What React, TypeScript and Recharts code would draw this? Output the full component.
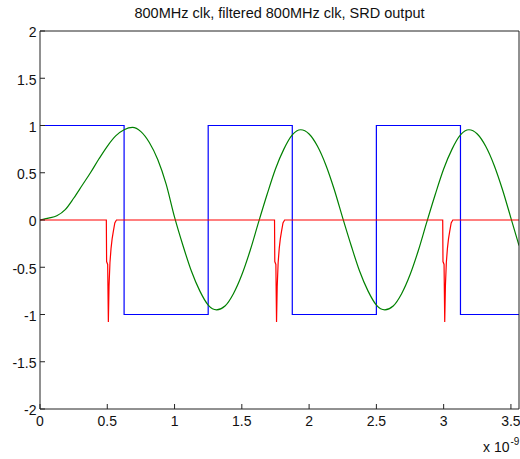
import { LineChart, Line, XAxis, YAxis } from "recharts"

// time axis is in units of 1e-9 s
const xTicks = [0, 0.5, 1, 1.5, 2, 2.5, 3, 3.5]
const yTicks = [-2, -1.5, -1, -0.5, 0, 0.5, 1, 1.5, 2]

// 800MHz clock (square wave)
const clockTimes = [0, 0.625, 0.625, 1.25, 1.25, 1.875, 1.875, 2.5, 2.5, 3.125, 3.125, 3.56]
const clockLevels = [1, 1, -1, -1, 1, 1, -1, -1, 1, 1, -1, -1]

// filtered clock
const filteredTimes = [
  0, 0.0625, 0.125, 0.1875, 0.25, 0.3125, 0.375, 0.4375, 0.5, 0.5625, 0.625, 0.6875, 0.75, 0.8125, 0.875, 0.9375,
  1, 1.0625, 1.125, 1.1875, 1.25, 1.3125, 1.375, 1.4375, 1.5, 1.5625, 1.625, 1.6875, 1.75, 1.8125, 1.875, 1.9375,
  2, 2.0625, 2.125, 2.1875, 2.25, 2.3125, 2.375, 2.4375, 2.5, 2.5625, 2.625, 2.6875, 2.75, 2.8125, 2.875, 2.9375,
  3, 3.0625, 3.125, 3.1875, 3.25, 3.3125, 3.375, 3.4375, 3.5, 3.56,
]
const filteredValues = [
  0, 0.02, 0.045, 0.11, 0.23, 0.365, 0.5, 0.645, 0.78, 0.89, 0.955, 0.98, 0.935, 0.82, 0.64, 0.38,
  0.03, -0.27, -0.54, -0.75, -0.9, -0.95, -0.91, -0.78, -0.58, -0.32, -0.02, 0.27, 0.54, 0.75, 0.9, 0.955,
  0.91, 0.78, 0.58, 0.32, 0.02, -0.27, -0.54, -0.75, -0.9, -0.95, -0.91, -0.78, -0.58, -0.32, -0.02, 0.27,
  0.54, 0.75, 0.9, 0.955, 0.91, 0.78, 0.58, 0.32, 0.02, -0.27,
]

// SRD output: flat with a sharp negative pulse before each falling clock edge
const srdTimes = [
  0, 0.493, 0.495, 0.503, 0.508, 0.513, 0.52, 0.528, 0.536, 0.545, 0.556, 0.568,
  1.743, 1.745, 1.753, 1.758, 1.763, 1.77, 1.778, 1.786, 1.795, 1.806, 1.818,
  2.993, 2.995, 3.003, 3.008, 3.013, 3.02, 3.028, 3.036, 3.045, 3.056, 3.068,
  3.56,
]
const srdValues = [
  0, 0, -0.44, -0.47, -1.08, -0.7, -0.45, -0.3, -0.2, -0.12, -0.03, 0,
  0, -0.44, -0.47, -1.08, -0.7, -0.45, -0.3, -0.2, -0.12, -0.03, 0,
  0, -0.44, -0.47, -1.08, -0.7, -0.45, -0.3, -0.2, -0.12, -0.03, 0,
  0,
]

const zip = (ts: number[], vs: number[]) => ts.map((t, i) => ({ t, v: vs[i] }))

const clockData = zip(clockTimes, clockLevels)
const filteredData = zip(filteredTimes, filteredValues)
const srdData = zip(srdTimes, srdValues)

const font = "'Liberation Sans', Arial, sans-serif"
const axisColor = "#222"
const tickStyle = { fontSize: 14, fill: "#111", fontFamily: font }

export default function App() {
  return (
    <div
      style={{
        position: "absolute",
        left: 0,
        top: 0,
        width: 520,
        height: 459,
        overflow: "hidden",
        background: "#fff",
        fontFamily: font,
      }}
    >
      <div
        style={{
          position: "absolute",
          left: 40,
          width: 479,
          top: 6,
          textAlign: "center",
          fontSize: 14.5,
          lineHeight: "14.5px",
          color: "#111",
          whiteSpace: "nowrap",
        }}
      >
        800MHz clk, filtered 800MHz clk, SRD output
      </div>
      <LineChart width={520} height={459} margin={{ top: 30, right: 0, bottom: 20, left: 0 }}>
        <XAxis
          dataKey="t"
          type="number"
          domain={[0, 3.56]}
          ticks={xTicks}
          interval={0}
          allowDataOverflow
          height={30}
          stroke={axisColor}
          tickSize={-5}
          tickMargin={12.5}
          tick={tickStyle}
        />
        <XAxis
          xAxisId="top"
          orientation="top"
          type="number"
          domain={[0, 3.56]}
          ticks={xTicks}
          interval={0}
          allowDataOverflow
          height={1}
          stroke={axisColor}
          tickSize={-5}
          tick={false}
        />
        <YAxis
          type="number"
          domain={[-2, 2]}
          ticks={yTicks}
          interval={0}
          allowDataOverflow
          width={40}
          stroke={axisColor}
          tickSize={-5}
          tickMargin={8.5}
          tick={{ ...tickStyle, dy: 1.5 }}
        />
        <YAxis
          yAxisId="right"
          orientation="right"
          type="number"
          domain={[-2, 2]}
          ticks={yTicks}
          interval={0}
          allowDataOverflow
          width={1}
          stroke={axisColor}
          tickSize={-5}
          tick={false}
        />
        <Line
          data={clockData}
          dataKey="v"
          type="linear"
          stroke="#0000ff"
          strokeWidth={1.2}
          dot={false}
          activeDot={false}
          isAnimationActive={false}
        />
        <Line
          data={filteredData}
          dataKey="v"
          type="monotone"
          stroke="#008000"
          strokeWidth={1.2}
          dot={false}
          activeDot={false}
          isAnimationActive={false}
        />
        <Line
          data={srdData}
          dataKey="v"
          type="linear"
          stroke="#ff0000"
          strokeWidth={1.2}
          dot={false}
          activeDot={false}
          isAnimationActive={false}
        />
      </LineChart>
      <div
        style={{
          position: "absolute",
          left: 483,
          top: 440,
          fontSize: 14,
          lineHeight: "14px",
          color: "#111",
          whiteSpace: "nowrap",
        }}
      >
        x 10<span style={{ fontSize: 10, position: "relative", top: -7, marginLeft: 1 }}>-9</span>
      </div>
    </div>
  )
}
